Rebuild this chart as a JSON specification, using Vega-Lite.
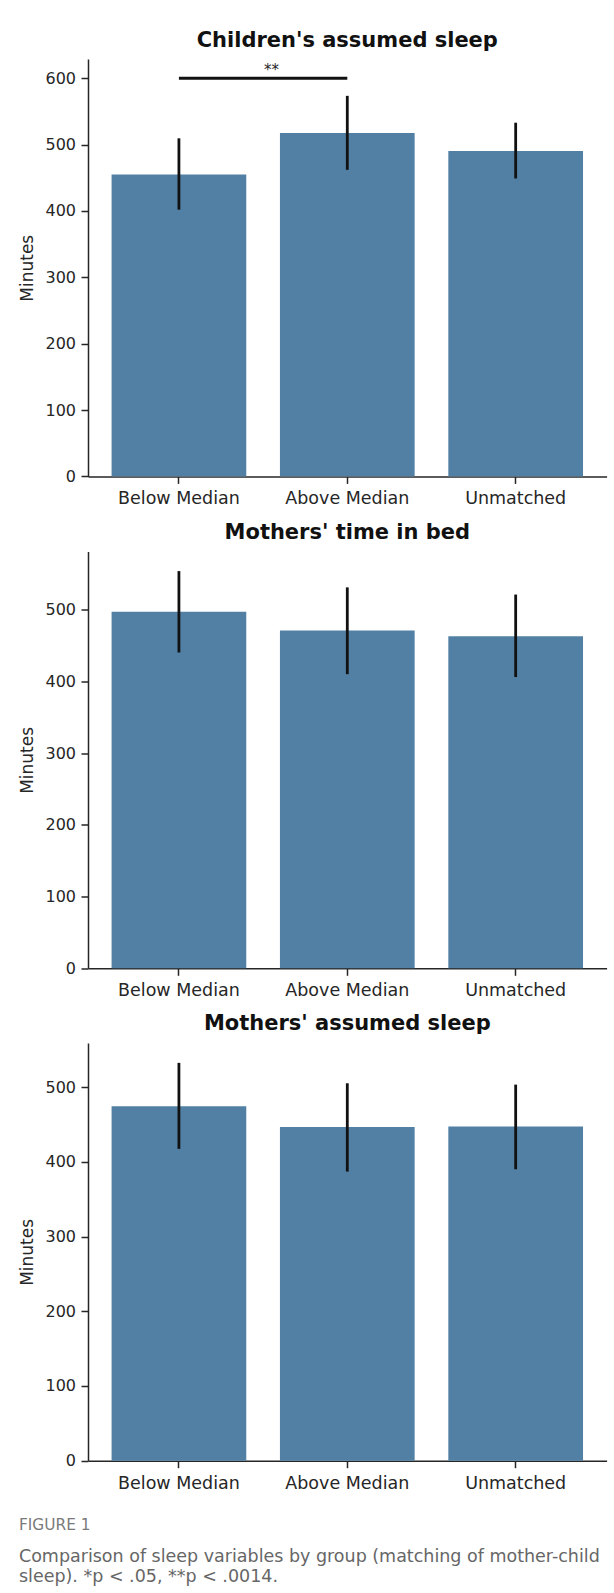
{
  "$schema": "https://vega.github.io/schema/vega-lite/v6.json",
  "background": "white",
  "padding": {"left": 18, "top": 29, "right": 6, "bottom": 10},
  "spacing": 13.5,
  "title": {
    "text": "FIGURE 1",
    "subtitle": ["Comparison of sleep variables by group (matching of mother-child", "sleep). *p < .05, **p < .0014."],
    "orient": "bottom",
    "anchor": "start",
    "offset": 26.5,
    "font": "DejaVu Sans",
    "fontSize": 15.4,
    "fontWeight": "normal",
    "color": "#7a7a7a",
    "subtitleFont": "DejaVu Sans",
    "subtitleFontSize": 17.5,
    "subtitleColor": "#666666",
    "subtitleLineHeight": 20.5,
    "subtitlePadding": 14
  },
  "config": {
    "view": {"stroke": null},
    "axis": {
      "grid": false,
      "domainColor": "#262626",
      "domainWidth": 1.5,
      "tickColor": "#262626",
      "tickWidth": 1.5,
      "tickSize": 7,
      "labelColor": "#262626",
      "labelFont": "DejaVu Sans",
      "titleFont": "DejaVu Sans",
      "titleFontWeight": "normal",
      "titleColor": "#262626"
    },
    "axisX": {"labelFontSize": 17.5, "labelPadding": 6.5, "labelAngle": 0},
    "axisY": {"labelFontSize": 16, "labelPadding": 5.5, "titleFontSize": 17, "titlePadding": 8}
  },
  "vconcat": [
    {
      "width": 518.6,
      "height": 417.4,
      "title": {"text": "Children's assumed sleep", "font": "DejaVu Sans", "fontSize": 21, "fontWeight": "bold", "color": "#111111", "baseline": "alphabetic", "offset": -8.5, "anchor": "middle", "frame": "group"},
      "layer": [
        {
          "data": {"values": [
            {"group": "Below Median", "mean": 455, "lo": 402, "hi": 509.5},
            {"group": "Above Median", "mean": 517.5, "lo": 462, "hi": 573.5},
            {"group": "Unmatched", "mean": 490.5, "lo": 449, "hi": 533}
          ]},
          "layer": [
            {
              "mark": {"type": "bar", "color": "#5280a5"},
              "encoding": {
                "x": {"field": "group", "type": "nominal", "scale": {"domain": ["Below Median", "Above Median", "Unmatched"], "paddingInner": 0.2, "paddingOuter": 0.14}, "axis": {"title": null}},
                "y": {"field": "mean", "type": "quantitative", "scale": {"domain": [0, 629], "nice": false}, "axis": {"title": "Minutes", "values": [0, 100, 200, 300, 400, 500, 600]}}
              }
            },
            {
              "mark": {"type": "rule", "color": "#111111", "strokeWidth": 2.8},
              "encoding": {
                "x": {"field": "group", "type": "nominal", "scale": {"domain": ["Below Median", "Above Median", "Unmatched"]}, "axis": {"title": null}},
                "y": {"field": "lo", "type": "quantitative", "axis": {"title": "Minutes"}},
                "y2": {"field": "hi"}
              }
            }
          ]
        },
        {
          "data": {"values": [{"from": "Below Median", "to": "Above Median", "level": 600, "label": "**"}]},
          "layer": [
            {
              "mark": {"type": "rule", "color": "#111111", "strokeWidth": 2.8},
              "encoding": {
                "x": {"field": "from", "type": "nominal", "scale": {"domain": ["Below Median", "Above Median", "Unmatched"]}, "axis": {"title": null}},
                "x2": {"field": "to"},
                "y": {"field": "level", "type": "quantitative", "axis": {"title": "Minutes"}}
              }
            },
            {
              "mark": {"type": "text", "font": "DejaVu Sans", "fontSize": 15, "color": "#262626", "baseline": "alphabetic", "align": "center", "dx": 92.5, "dy": -3},
              "encoding": {
                "x": {"field": "from", "type": "nominal", "scale": {"domain": ["Below Median", "Above Median", "Unmatched"]}, "axis": {"title": null}},
                "y": {"field": "level", "type": "quantitative", "axis": {"title": "Minutes"}},
                "text": {"field": "label"}
              }
            }
          ]
        }
      ]
    },
    {
      "width": 518.6,
      "height": 416.8,
      "title": {"text": "Mothers' time in bed", "font": "DejaVu Sans", "fontSize": 21, "fontWeight": "bold", "color": "#111111", "baseline": "alphabetic", "offset": -8.5, "anchor": "middle", "frame": "group"},
      "data": {"values": [
        {"group": "Below Median", "mean": 497, "lo": 440.2, "hi": 553.7},
        {"group": "Above Median", "mean": 471, "lo": 410, "hi": 531},
        {"group": "Unmatched", "mean": 463, "lo": 406, "hi": 521}
      ]},
      "encoding": {
        "x": {"field": "group", "type": "nominal", "scale": {"domain": ["Below Median", "Above Median", "Unmatched"], "paddingInner": 0.2, "paddingOuter": 0.14}, "axis": {"title": null}}
      },
      "layer": [
        {
          "mark": {"type": "bar", "color": "#5280a5"},
          "encoding": {
            "y": {"field": "mean", "type": "quantitative", "scale": {"domain": [0, 581], "nice": false}, "axis": {"title": "Minutes", "values": [0, 100, 200, 300, 400, 500]}}
          }
        },
        {
          "mark": {"type": "rule", "color": "#111111", "strokeWidth": 2.8},
          "encoding": {
            "y": {"field": "lo", "type": "quantitative", "axis": {"title": "Minutes"}},
            "y2": {"field": "hi"}
          }
        }
      ]
    },
    {
      "width": 518.6,
      "height": 417.7,
      "title": {"text": "Mothers' assumed sleep", "font": "DejaVu Sans", "fontSize": 21, "fontWeight": "bold", "color": "#111111", "baseline": "alphabetic", "offset": -8.5, "anchor": "middle", "frame": "group"},
      "data": {"values": [
        {"group": "Below Median", "mean": 474.3, "lo": 417.3, "hi": 532.4},
        {"group": "Above Median", "mean": 446.7, "lo": 386.9, "hi": 505.1},
        {"group": "Unmatched", "mean": 447.1, "lo": 390, "hi": 503.3}
      ]},
      "encoding": {
        "x": {"field": "group", "type": "nominal", "scale": {"domain": ["Below Median", "Above Median", "Unmatched"], "paddingInner": 0.2, "paddingOuter": 0.14}, "axis": {"title": null}}
      },
      "layer": [
        {
          "mark": {"type": "bar", "color": "#5280a5"},
          "encoding": {
            "y": {"field": "mean", "type": "quantitative", "scale": {"domain": [0, 559], "nice": false}, "axis": {"title": "Minutes", "values": [0, 100, 200, 300, 400, 500]}}
          }
        },
        {
          "mark": {"type": "rule", "color": "#111111", "strokeWidth": 2.8},
          "encoding": {
            "y": {"field": "lo", "type": "quantitative", "axis": {"title": "Minutes"}},
            "y2": {"field": "hi"}
          }
        }
      ]
    }
  ]
}
